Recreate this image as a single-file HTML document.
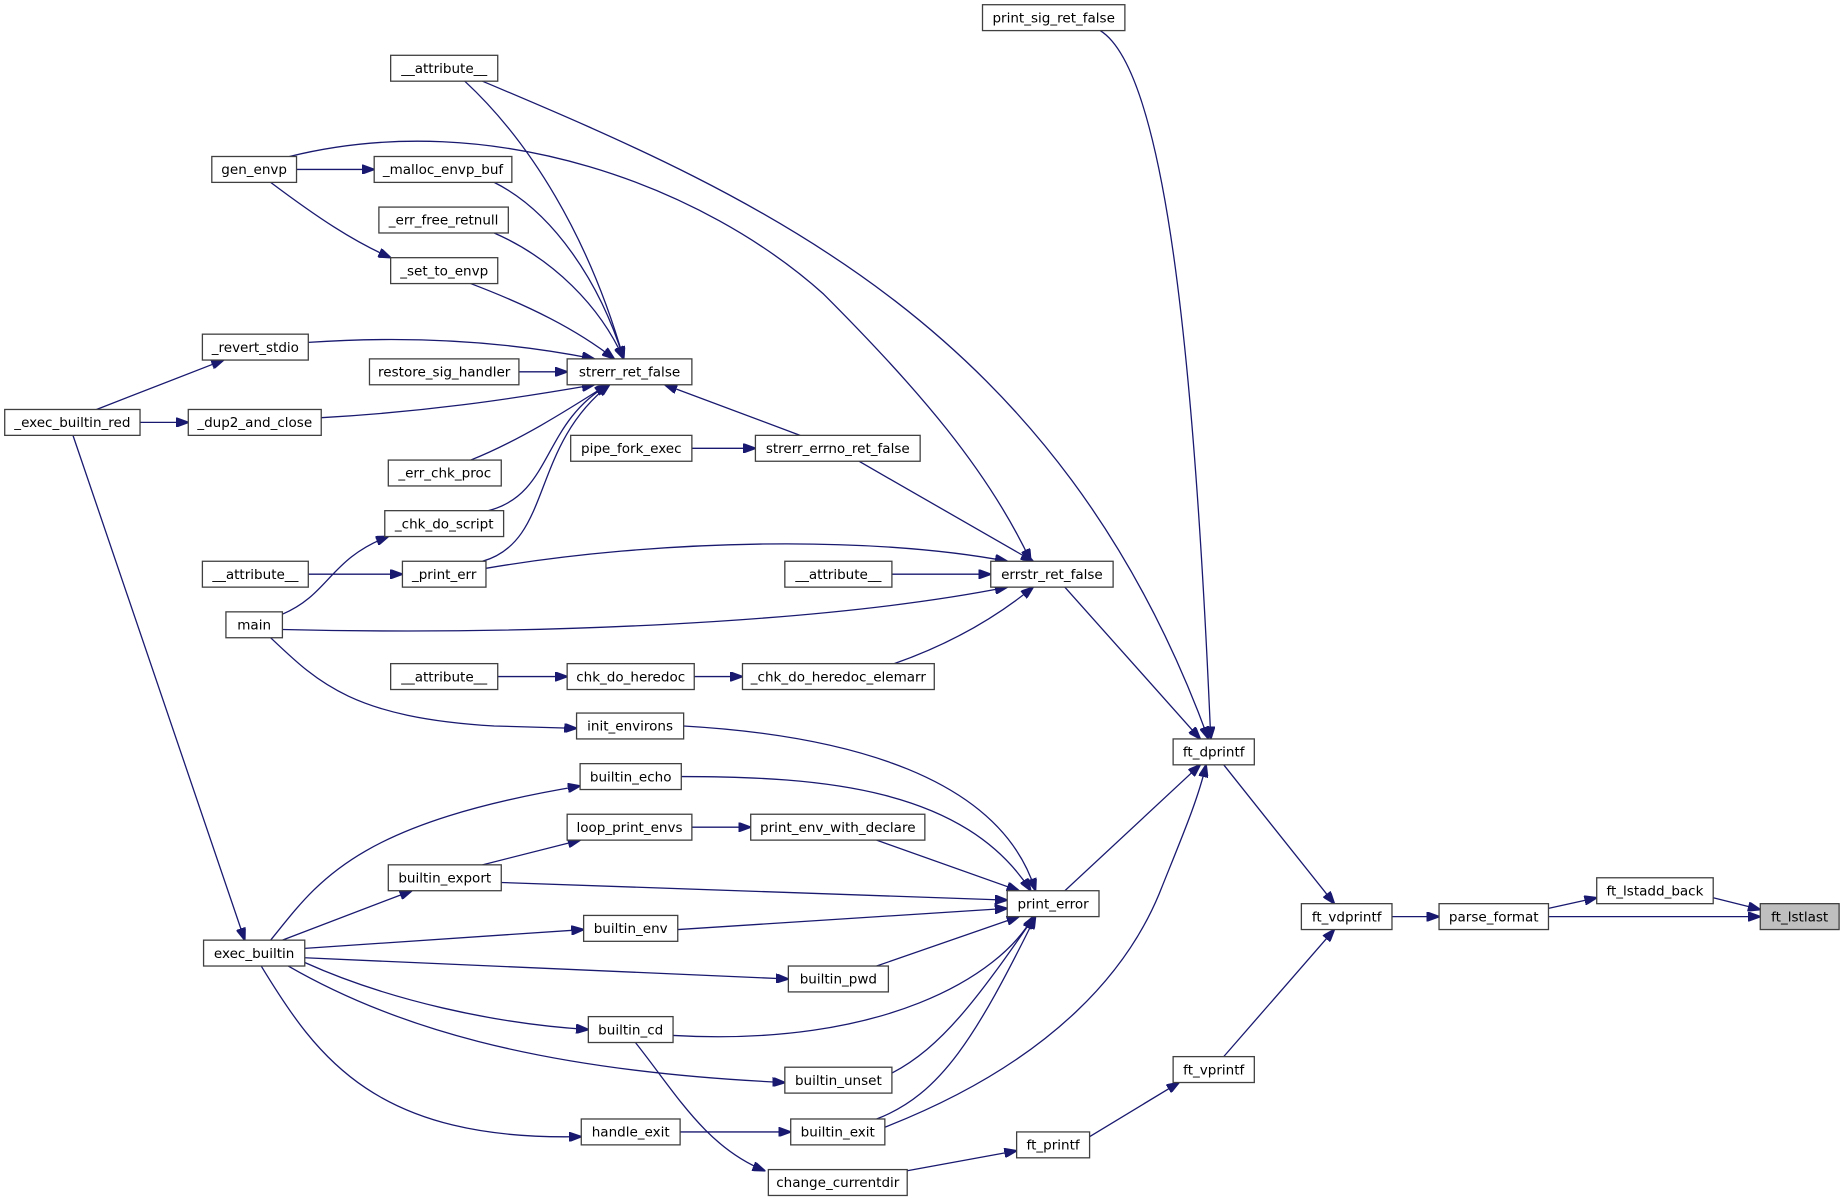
<!DOCTYPE html>
<html><head><meta charset="utf-8"><style>
html,body{margin:0;padding:0;background:#fff;}
svg{display:block}
text{font-family:"DejaVu Sans","Liberation Sans",sans-serif;font-size:11.5px;fill:#000;text-anchor:middle}
rect{fill:#fff;stroke:#404040;stroke-width:1.1}
path{fill:none;stroke:#191970;stroke-width:1.1}
</style></head><body>
<svg width="1845" height="1203" viewBox="0 0 1568 1022.4" xmlns="http://www.w3.org/2000/svg">
<defs><marker id="a" markerWidth="11" markerHeight="8" refX="10.5" refY="4" orient="auto" markerUnits="userSpaceOnUse"><path d="M0,0 L11,4 L0,8 Z" style="fill:#191970;stroke:#191970"/></marker></defs>
<g marker-end="url(#a)">
<path d="M1456,763 L1496,773"/>
<path d="M1316,779 L1496,779"/>
<path d="M1316,772 L1357,763"/>
<path d="M1183,779 L1223,779"/>
<path d="M1040,650 L1134,768"/>
<path d="M1040,898 L1134,790"/>
<path d="M926,966 L1002,920"/>
<path d="M771,995 L864,978"/>
<path d="M540,886 C575,930 600,975 650,995"/>
<path d="M935,26 C990,60 1015,300 1029,628"/>
<path d="M410,69 C650,170 900,280 1027,628"/>
<path d="M246,133 C420,90 600,160 700,250 C780,330 840,400 876,477"/>
<path d="M905,499 L1020,628"/>
<path d="M905,757 L1020,650"/>
<path d="M752,958 C900,900 960,820 985,760 C1005,710 1018,680 1025,650"/>
<path d="M745,951 C800,930 830,880 880,779"/>
<path d="M730,392 L878,477"/>
<path d="M680,370 L565,327"/>
<path d="M588,381 L642,381"/>
<path d="M413,483 C560,458 740,455 856,477"/>
<path d="M758,488 L842,488"/>
<path d="M240,535 C450,540 700,530 856,499"/>
<path d="M760,564 C800,550 840,530 878,499"/>
<path d="M590,575 L631,575"/>
<path d="M423,575 L482,575"/>
<path d="M230,542 C270,580 300,610 420,617 L490,619"/>
<path d="M581,617 C720,625 850,660 880,757"/>
<path d="M579,660 C700,660 820,670 876,757"/>
<path d="M745,714 L866,757"/>
<path d="M426,750 L856,765"/>
<path d="M576,790 L856,772"/>
<path d="M745,821 L866,779"/>
<path d="M572,880 C750,890 850,830 878,779"/>
<path d="M758,912 C800,890 830,850 879,779"/>
<path d="M588,703 L638,703"/>
<path d="M410,735 L493,714"/>
<path d="M230,799 C270,750 300,700 493,668"/>
<path d="M240,799 L350,757"/>
<path d="M259,806 L496,790"/>
<path d="M259,814 L670,832"/>
<path d="M259,818 C330,850 420,870 500,875"/>
<path d="M245,821 C330,870 450,910 667,920"/>
<path d="M222,821 C270,900 320,970 494,966"/>
<path d="M578,962 L672,962"/>
<path d="M62,370 L208,799"/>
<path d="M82,348 L190,306"/>
<path d="M119,359 L160,359"/>
<path d="M262,291 C350,285 430,290 505,305"/>
<path d="M273,355 C360,350 430,340 505,327"/>
<path d="M395,69 C450,120 500,200 530,305"/>
<path d="M420,155 C470,180 510,240 530,305"/>
<path d="M420,198 C470,220 510,260 530,305"/>
<path d="M400,241 C450,260 490,280 522,305"/>
<path d="M441,316 L482,316"/>
<path d="M400,391 C440,375 480,350 516,327"/>
<path d="M415,434 C470,420 460,360 517,327"/>
<path d="M410,477 C470,460 450,380 518,327"/>
<path d="M240,522 C280,505 280,475 330,456"/>
<path d="M262,488 L342,488"/>
<path d="M252,144 L318,144"/>
<path d="M230,155 C270,185 300,205 332,219"/>
</g>
<g>
<rect x="835" y="4" width="121" height="22"/><text x="895.5" y="19">print_sig_ret_false</text>
<rect x="332" y="47" width="91" height="22"/><text x="377.5" y="62">__attribute__</text>
<rect x="180" y="133" width="72" height="22"/><text x="216" y="148">gen_envp</text>
<rect x="318" y="133" width="117" height="22"/><text x="376.5" y="148">_malloc_envp_buf</text>
<rect x="322" y="176" width="110" height="22"/><text x="377" y="191">_err_free_retnull</text>
<rect x="332" y="219" width="91" height="22"/><text x="377.5" y="234">_set_to_envp</text>
<rect x="172" y="284" width="90" height="22"/><text x="217" y="299">_revert_stdio</text>
<rect x="314" y="305" width="127" height="22"/><text x="377.5" y="320">restore_sig_handler</text>
<rect x="482" y="305" width="106" height="22"/><text x="535" y="320">strerr_ret_false</text>
<rect x="4" y="348" width="115" height="22"/><text x="61.5" y="363">_exec_builtin_red</text>
<rect x="160" y="348" width="113" height="22"/><text x="216.5" y="363">_dup2_and_close</text>
<rect x="485" y="370" width="103" height="22"/><text x="536.5" y="385">pipe_fork_exec</text>
<rect x="642" y="370" width="140" height="22"/><text x="712" y="385">strerr_errno_ret_false</text>
<rect x="330" y="391" width="96" height="22"/><text x="378" y="406">_err_chk_proc</text>
<rect x="327" y="434" width="101" height="22"/><text x="377.5" y="449">_chk_do_script</text>
<rect x="172" y="477" width="90" height="22"/><text x="217" y="492">__attribute__</text>
<rect x="342" y="477" width="71" height="22"/><text x="377.5" y="492">_print_err</text>
<rect x="667" y="477" width="91" height="22"/><text x="712.5" y="492">__attribute__</text>
<rect x="842" y="477" width="104" height="22"/><text x="894" y="492">errstr_ret_false</text>
<rect x="192" y="520" width="48" height="22"/><text x="216" y="535">main</text>
<rect x="332" y="564" width="91" height="22"/><text x="377.5" y="579">__attribute__</text>
<rect x="482" y="564" width="108" height="22"/><text x="536" y="579">chk_do_heredoc</text>
<rect x="631" y="564" width="163" height="22"/><text x="712.5" y="579">_chk_do_heredoc_elemarr</text>
<rect x="490" y="606" width="91" height="22"/><text x="535.5" y="621">init_environs</text>
<rect x="997" y="628" width="69" height="22"/><text x="1031.5" y="643">ft_dprintf</text>
<rect x="493" y="649" width="86" height="22"/><text x="536" y="664">builtin_echo</text>
<rect x="482" y="692" width="106" height="22"/><text x="535" y="707">loop_print_envs</text>
<rect x="638" y="692" width="148" height="22"/><text x="712" y="707">print_env_with_declare</text>
<rect x="330" y="735" width="96" height="22"/><text x="378" y="750">builtin_export</text>
<rect x="856" y="757" width="78" height="22"/><text x="895" y="772">print_error</text>
<rect x="1357" y="746" width="99" height="22"/><text x="1406.5" y="761">ft_lstadd_back</text>
<rect x="1106" y="768" width="77" height="22"/><text x="1144.5" y="783">ft_vdprintf</text>
<rect x="1223" y="768" width="93" height="22"/><text x="1269.5" y="783">parse_format</text>
<rect x="1496" y="768" width="67" height="22" style="fill:#bfbfbf"/><text x="1529.5" y="783">ft_lstlast</text>
<rect x="496" y="778" width="80" height="22"/><text x="536" y="793">builtin_env</text>
<rect x="173" y="799" width="86" height="22"/><text x="216" y="814">exec_builtin</text>
<rect x="670" y="821" width="85" height="22"/><text x="712.5" y="836">builtin_pwd</text>
<rect x="500" y="864" width="72" height="22"/><text x="536" y="879">builtin_cd</text>
<rect x="997" y="898" width="69" height="22"/><text x="1031.5" y="913">ft_vprintf</text>
<rect x="667" y="907" width="91" height="22"/><text x="712.5" y="922">builtin_unset</text>
<rect x="494" y="951" width="84" height="22"/><text x="536" y="966">handle_exit</text>
<rect x="672" y="951" width="80" height="22"/><text x="712" y="966">builtin_exit</text>
<rect x="864" y="962" width="62" height="22"/><text x="895" y="977">ft_printf</text>
<rect x="653" y="994" width="118" height="22"/><text x="712" y="1009">change_currentdir</text>
</g>
</svg>
</body></html>
